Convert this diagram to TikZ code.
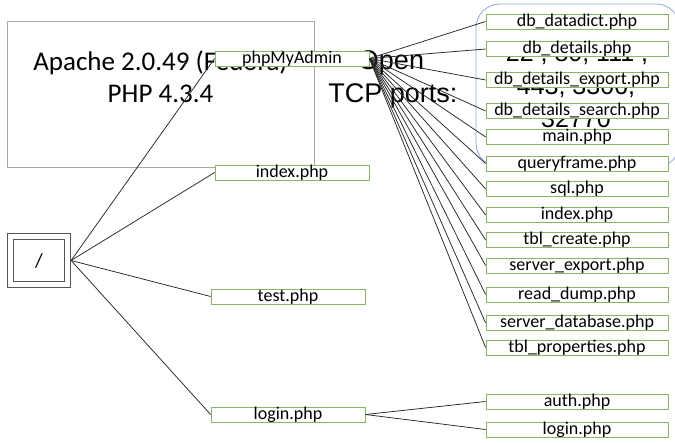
\documentclass[tikz,border=0pt]{standalone}
\usepackage{fontspec}
\setmainfont{Carlito}
\newfontfamily\arialfont{Liberation Sans}
\usepackage{xcolor}
\usepackage{tikz}

\definecolor{pagegreen}{RGB}{134,182,102}
\definecolor{servergray}{RGB}{166,166,166}
\definecolor{portblue}{RGB}{143,170,220}
\definecolor{rootgray}{RGB}{85,85,85}

\begin{document}
\begin{tikzpicture}[ x = 1pt, y = -1pt ]
        \tikzset{PageStyle/.style={draw = pagegreen, fill = white, line width = 0.8pt,
            inner sep = 0pt, minimum height = 15pt, text height = 12.5pt, text depth = 2.5pt,
            font = \fontsize{18}{20}\selectfont}}       % one box per script
        \tikzset{LeftPage/.style={PageStyle, minimum width = 154pt}}
        \tikzset{RightPage/.style={PageStyle, minimum width = 182pt}}
        \tikzset{LinkStyle/.style={draw = black!85, line width = 0.75pt}}
        \tikzset{BigText/.style={anchor = base, font = \fontsize{27}{32}\selectfont}}
        \tikzset{PortText/.style={anchor = base, font = \arialfont\fontsize{25}{33}\selectfont}}

        \useasboundingbox (0,0) rectangle (675,443);

        % server box and the open ports
        \node[draw = servergray, line width = 1pt, minimum width = 307pt, minimum height = 146pt] (server) at (160.5,95) {};
        \node[BigText] (apache) at (160.5,71) {Apache 2.0.49 (Fedora)};
        \node[BigText] (php) at (160.5,103) {PHP 4.3.4};
        \node[BigText, font = \arialfont\fontsize{27}{32}\selectfont] (open) at (391,70) {Open};
        \node[BigText, font = \arialfont\fontsize{27}{32}\selectfont] (tcp) at (393,103) {TCP ports:};
        \draw[portblue, line width = 0.8pt, rounded corners = 24pt] (476,4) rectangle (680,167);
        \node[PortText] (ports1) at (577,62) {22 , 80, 111 ,};
        \node[PortText] (ports2) at (576,95) {443, 3306,};
        \node[PortText] (ports3) at (576,128) {32770};

        % document root
        \node[draw = rootgray, double, double distance = 5pt, line width = 1.1pt,
              minimum width = 57pt, minimum height = 48pt, inner sep = 0pt, outer sep = 3.6pt,
              font = \fontsize{20}{24}\selectfont] (root) at (39,260.5) {/};

        \node[LeftPage] (pma) at (292,58.5) {phpMyAdmin};
        \node[LeftPage] (index) at (292,172.5) {index.php};
        \node[LeftPage] (test) at (288,296.5) {test.php};
        \node[LeftPage] (login) at (288,414.5) {login.php};

        % phpMyAdmin scripts
        \node[RightPage] (datadict) at (577,21.5) {db\_datadict.php};
        \node[RightPage] (details) at (577,49) {db\_details.php};
        \node[RightPage] (export) at (577,80) {db\_details\_export.php};
        \node[RightPage] (search) at (577,111) {db\_details\_search.php};
        \node[RightPage] (main) at (577,137) {main.php};
        \node[RightPage] (queryframe) at (577,163.5) {queryframe.php};
        \node[RightPage] (sql) at (577,189) {sql.php};
        \node[RightPage] (pmaindex) at (577,215) {index.php};
        \node[RightPage] (tblcreate) at (577,240) {tbl\_create.php};
        \node[RightPage] (srvexport) at (577,265.5) {server\_export.php};
        \node[RightPage] (readdump) at (577,294.5) {read\_dump.php};
        \node[RightPage] (srvdb) at (577,323) {server\_database.php};
        \node[RightPage] (tblprops) at (577,347.5) {tbl\_properties.php};

        % login scripts
        \node[RightPage] (auth) at (577,401.5) {auth.php};
        \node[RightPage] (relogin) at (577,429.5) {login.php};

        \draw[LinkStyle] (root.east) -- (pma.west);
        \draw[LinkStyle] (root.east) -- (index.west);
        \draw[LinkStyle] (root.east) -- (test.west);
        \draw[LinkStyle] (root.east) -- (login.west);

        \draw[LinkStyle] (pma.east) -- (datadict.west);
        \draw[LinkStyle] (pma.east) -- (details.west);
        \draw[LinkStyle] (pma.east) -- (export.west);
        \draw[LinkStyle] (pma.east) -- (search.west);
        \draw[LinkStyle] (pma.east) -- (main.west);
        \draw[LinkStyle] (pma.east) -- (queryframe.west);
        \draw[LinkStyle] (pma.east) -- (sql.west);
        \draw[LinkStyle] (pma.east) -- (pmaindex.west);
        \draw[LinkStyle] (pma.east) -- (tblcreate.west);
        \draw[LinkStyle] (pma.east) -- (srvexport.west);
        \draw[LinkStyle] (pma.east) -- (readdump.west);
        \draw[LinkStyle] (pma.east) -- (srvdb.west);
        \draw[LinkStyle] (pma.east) -- (tblprops.west);

        \draw[LinkStyle] (login.east) -- (auth.west);
        \draw[LinkStyle] (login.east) -- (relogin.west);

      \end{tikzpicture}
\end{document}
